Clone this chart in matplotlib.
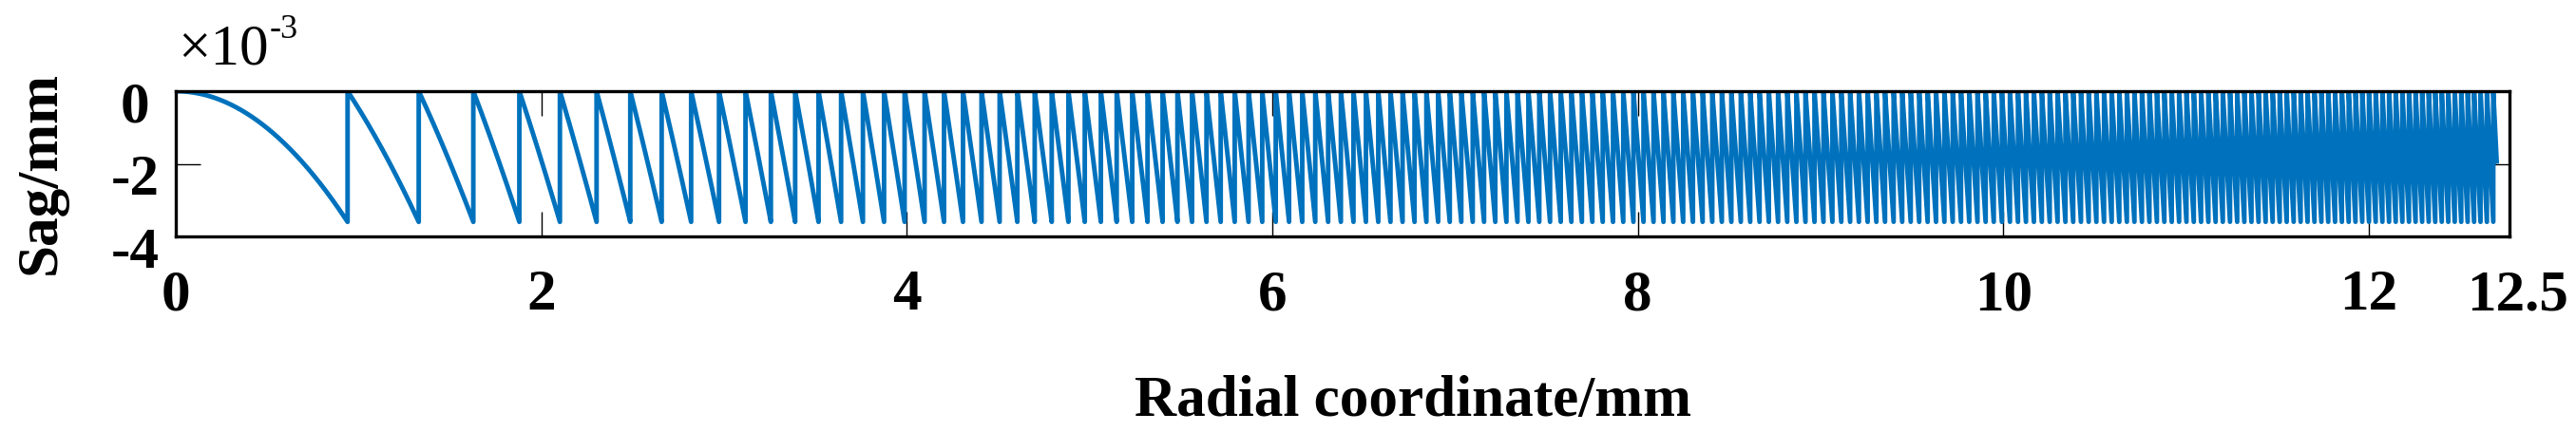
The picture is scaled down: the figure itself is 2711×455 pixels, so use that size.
import numpy as np
import matplotlib
matplotlib.use("Agg")
from matplotlib import pyplot as plt
from matplotlib.transforms import ScaledTranslation

# 読み取った値 (Fresnel zone profile)
zone_r1 = 0.94        # first zone edge / mm
zone_depth = 3.6      # zone depth, x1e-3 mm
r_end = 12.7          # last plotted radius / mm

x_ticks = [0, 2, 4, 6, 8, 10, 12]
x_ticklabels = ["0", "2", "4", "6", "8", "10", "12"]
x_edge_label = "12.5"
y_ticks = [0, -2, -4]
y_ticklabels = ["0", "-2", "-4"]

r = np.linspace(0, r_end, 400001)
sag = -np.mod((r / zone_r1) ** 2, 1.0) * zone_depth

plt.rcParams["font.family"] = ["Liberation Serif", "DejaVu Serif"]
plt.rcParams["font.weight"] = "bold"

fig = plt.figure(figsize=(27.11, 4.56), dpi=100)
ax = fig.add_axes([185 / 2711, 1 - 250 / 456, (2641 - 185) / 2711, (250 - 97) / 456])

ax.plot(r, sag, color="#0072BD", lw=3.5)

x_max = 12.77
ax.set_xlim(0, x_max)
ax.set_ylim(-4, 0)
ax.set_xticks(x_ticks + [x_max])
ax.set_xticklabels(x_ticklabels + [x_edge_label])
ax.set_yticks(y_ticks)
ax.set_yticklabels(y_ticklabels)

ax.tick_params(direction="in", length=19, width=1, top=True, right=True,
               labelsize=44)
ax.tick_params(axis="x", pad=24)
ax.tick_params(axis="y", pad=31)
for lab in ax.get_yticklabels():
    lab.set_horizontalalignment("center")
    lab.set_transform(lab.get_transform() + ScaledTranslation(0, -0.10, fig.dpi_scale_trans))
for lab in ax.get_xticklabels()[-1:]:
    lab.set_transform(lab.get_transform() + ScaledTranslation(0.09, 0, fig.dpi_scale_trans))
for s in ax.spines.values():
    s.set_linewidth(2.4)

# ×10^-3 の倍率表示
fig.text(187 / 2711, 1 - 68 / 456, "×10", fontsize=44, fontweight="normal",
         ha="left", va="baseline")
fig.text(284 / 2711, 1 - 40 / 456, "-3", fontsize=26, fontweight="normal",
         ha="left", va="baseline")
fig.text(43 / 2711, 1 - 182 / 456, "Sag/mm", fontsize=44, rotation=90,
         ha="center", va="center")
fig.text(1487 / 2711, 1 - 438 / 456, "Radial coordinate/mm", fontsize=44,
         ha="center", va="baseline")

fig.savefig("out.png", dpi=100)
